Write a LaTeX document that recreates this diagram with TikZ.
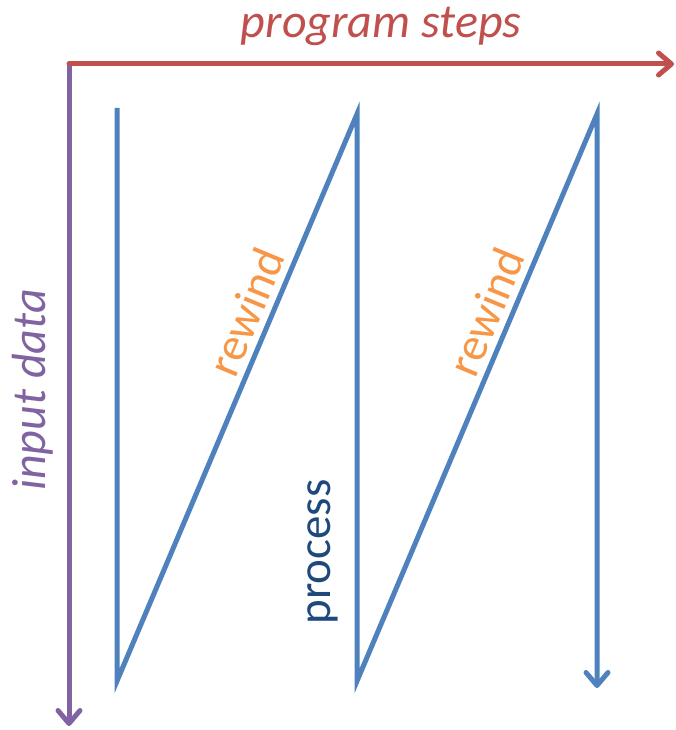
\documentclass[tikz,border=0pt]{standalone}
\usepackage{fontspec}
\setmainfont{Carlito}
\usetikzlibrary{arrows.meta}
\definecolor{cred}{HTML}{C0504D}
\definecolor{cpurple}{HTML}{8064A2}
\definecolor{cblue}{HTML}{4F81BD}
\definecolor{corange}{HTML}{F79646}
\definecolor{cdark}{HTML}{1F497D}
\tikzset{
  tipbarb/.style={-{Straight Barb[length=13pt,width=22pt,line width=5pt,round]}},
  axis/.style={line width=5pt, line cap=round, tipbarb},
  zig/.style={cblue, line width=5pt, line join=miter, tipbarb},
  lbl/.style={inner sep=0pt, font=\fontsize{48}{56}\selectfont\itshape},
  lblup/.style={inner sep=0pt, font=\fontsize{47}{56}\selectfont},
}
\begin{document}
\begin{tikzpicture}[x=1pt,y=-1pt]
\useasboundingbox (0,0) rectangle (675,730);
\coordinate (o) at (69,64);
\coordinate (xend) at (674,64);
\coordinate (yend) at (69,726);
\coordinate (a1) at (117,108);
\coordinate (a2) at (117,681);
\coordinate (a3) at (357,114);
\coordinate (a4) at (357,681);
\coordinate (a5) at (597,114);
\coordinate (a6) at (597,688);
\draw[axis, cpurple] (o) -- (yend);
\draw[axis, cred] (o) -- (xend);
\draw[zig] (a1) -- (a2) -- (a3) -- (a4) -- (a5) -- (a6);
\node[lbl, text=cred] (ps) at (381,26) {program steps};
\node[lbl, text=cpurple, rotate=90] (id) at (33,390) {input data};
\node[lblup, text=corange, rotate=67.5] (rw1) at (246,312) {rewind};
\node[lblup, text=corange, rotate=67.5] (rw2) at (486,312) {rewind};
\node[lblup, text=cdark, rotate=90] (pr) at (323,552) {process};
\end{tikzpicture}
\end{document}
